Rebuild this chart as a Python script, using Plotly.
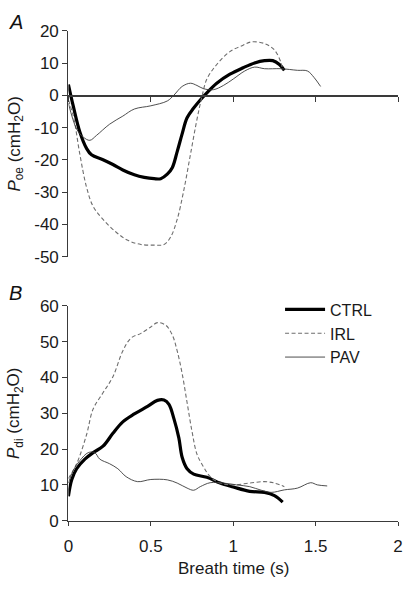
import plotly.graph_objects as go

# ---------- Data ----------
# Panel A: oesophageal pressure (cmH2O) vs breath time (s)
ctrl_oe_t = [0, 0.03, 0.07, 0.11, 0.14, 0.21, 0.27, 0.33, 0.40, 0.46, 0.52, 0.56, 0.60, 0.63,
             0.66, 0.69, 0.72, 0.76, 0.80, 0.84, 0.90, 0.98, 1.06, 1.13, 1.19, 1.24, 1.28, 1.31]
ctrl_oe_v = [3.4, -3.4, -11.4, -16.4, -18.4, -19.9, -21.4, -23.1, -24.6, -25.4, -25.8, -25.8, -24.4, -22.4,
             -17.4, -11.9, -6.9, -3.9, -1.4, 0.8, 3.8, 6.6, 8.6, 10.1, 10.8, 10.8, 9.6, 7.8]

irl_oe_t = [0, 0.03, 0.07, 0.11, 0.15, 0.21, 0.29, 0.36, 0.44, 0.52, 0.58, 0.62, 0.66, 0.70,
            0.74, 0.78, 0.81, 0.84, 0.90, 0.98, 1.06, 1.11, 1.19, 1.25, 1.29, 1.30]
irl_oe_v = [-1.4, -6.4, -18.4, -28.4, -34.4, -38.4, -42.4, -44.9, -46.2, -46.4, -46.2, -43.9, -38.4, -29.4,
            -18.4, -7.4, -0.4, 5.1, 9.6, 13.6, 15.6, 16.6, 16.1, 14.1, 10.1, 7.8]

pav_oe_t = [0, 0.05, 0.09, 0.13, 0.17, 0.25, 0.33, 0.40, 0.50, 0.60, 0.64, 0.69, 0.74, 0.78,
            0.82, 0.88, 0.94, 1.00, 1.07, 1.13, 1.19, 1.29, 1.39, 1.45, 1.49, 1.53]
pav_oe_v = [-2.4, -10.4, -12.9, -13.9, -12.4, -8.9, -6.4, -4.2, -3.2, -1.7, 0.1, 2.8, 3.8, 3.1,
            2.1, 1.8, 3.1, 5.1, 7.6, 8.8, 8.3, 8.3, 7.8, 7.6, 5.6, 2.8]

# Panel B: transdiaphragmatic pressure (cmH2O) vs breath time (s)
ctrl_di_t = [0, 0.02, 0.05, 0.10, 0.15, 0.21, 0.27, 0.33, 0.40, 0.48, 0.54, 0.58, 0.61, 0.64,
             0.67, 0.69, 0.72, 0.76, 0.84, 0.92, 1.00, 1.10, 1.19, 1.25, 1.30]
ctrl_di_v = [6.8, 11.4, 14.5, 17.2, 19.0, 20.8, 24.4, 27.6, 29.8, 31.9, 33.6, 33.7, 32.5, 28.5,
             23.1, 17.7, 14.5, 13.0, 12.1, 10.5, 9.4, 8.2, 7.9, 7.0, 5.2]

irl_di_t = [0, 0.05, 0.11, 0.15, 0.21, 0.27, 0.33, 0.38, 0.44, 0.50, 0.54, 0.59, 0.63, 0.66,
            0.69, 0.72, 0.75, 0.78, 0.82, 0.86, 0.92, 1.00, 1.10, 1.19, 1.25, 1.31]
irl_di_v = [11.8, 15.9, 24.0, 31.2, 35.7, 40.2, 47.4, 51.0, 52.3, 54.1, 55.3, 54.6, 51.9, 47.4,
            41.1, 33.0, 24.9, 18.6, 15.0, 12.3, 10.5, 10.0, 10.5, 10.9, 10.5, 9.5]

pav_di_t = [0, 0.03, 0.07, 0.12, 0.16, 0.19, 0.25, 0.30, 0.35, 0.42, 0.50, 0.60, 0.66, 0.72,
            0.76, 0.80, 0.86, 0.94, 1.02, 1.10, 1.17, 1.23, 1.31, 1.39, 1.47, 1.51, 1.57]
pav_di_v = [10.5, 14.1, 16.8, 19.0, 19.0, 17.2, 15.9, 14.5, 12.3, 10.9, 11.5, 11.4, 10.5, 9.1,
            8.5, 9.5, 10.6, 10.5, 10.0, 9.5, 8.5, 7.9, 8.6, 9.1, 10.6, 10.0, 9.7]

series_names = ["CTRL", "IRL", "PAV"]

top_ticks = [20, 10, 0, -10, -20, -30, -40, -50]
top_ticktext = ["20", "10", "0", "-10", "-20", "-30", "-40", "-50"]
bot_ticks = [0, 10, 20, 30, 40, 50, 60]
x_ticks = [0, 0.5, 1, 1.5, 2]
x_ticktext = ["0", "0.5", "1", "1.5", "2"]

# ---------- Styling ----------
W, H = 406, 590
FONT = "Liberation Sans, Arial, Helvetica, sans-serif"
AX = "#3a3a3a"
FS = 17

styles = {
    "CTRL": dict(color="#000000", width=3.2, dash="solid"),
    "IRL": dict(color="#6e6e6e", width=1.1, dash="4px,2.5px"),
    "PAV": dict(color="#3a3a3a", width=0.9, dash="solid"),
}

def py(px):
    return 1 - px / H

xdom = [65 / W, 403 / W]
ydom_top = [py(256), py(22.7)]
ydom_bot = [py(528.7), py(306.7)]
zero_pos = ydom_top[0] + (0 - (-50)) / 70 * (ydom_top[1] - ydom_top[0])

fig = go.Figure()

top = [(series_names[0], ctrl_oe_t, ctrl_oe_v), (series_names[1], irl_oe_t, irl_oe_v),
       (series_names[2], pav_oe_t, pav_oe_v)]
bot = [(series_names[0], ctrl_di_t, ctrl_di_v), (series_names[1], irl_di_t, irl_di_v),
       (series_names[2], pav_di_t, pav_di_v)]

for name, t, v in top:
    fig.add_trace(go.Scatter(x=t, y=v, mode="lines", name=name, line=styles[name],
                             xaxis="x", yaxis="y", showlegend=False, line_shape="spline",
                             hoverinfo="skip"))
for name, t, v in bot:
    fig.add_trace(go.Scatter(x=t, y=v, mode="lines", name=name, line=styles[name],
                             xaxis="x2", yaxis="y2", showlegend=True, line_shape="spline",
                             hoverinfo="skip"))

tickfont = dict(family=FONT, size=FS, color="#1a1a1a")

fig.update_layout(
    width=W, height=H,
    margin=dict(l=0, r=0, t=0, b=0),
    paper_bgcolor="white", plot_bgcolor="white",
    font=dict(family=FONT, size=FS, color="#1a1a1a"),
    xaxis=dict(domain=xdom, range=[0, 2], anchor="free", position=zero_pos,
               showline=True, linecolor=AX, linewidth=1.2, ticks="outside", ticklen=5,
               tickcolor=AX, tickvals=x_ticks, showticklabels=False, showgrid=False,
               zeroline=False),
    yaxis=dict(domain=ydom_top, range=[-50, 20], anchor="x", position=xdom[0],
               showline=True, linecolor=AX, linewidth=1.2, ticks="outside", ticklen=5,
               tickcolor=AX, tickvals=top_ticks, ticktext=top_ticktext, tickfont=tickfont,
               showgrid=False, zeroline=False),
    xaxis2=dict(domain=xdom, range=[0, 2], anchor="y2",
                showline=True, linecolor=AX, linewidth=1.2, ticks="outside", ticklen=4,
                tickcolor=AX, tickvals=x_ticks, ticktext=x_ticktext, tickfont=tickfont,
                showgrid=False, zeroline=False, ticklabeloverflow="allow",
                ticklabelstandoff=6),
    yaxis2=dict(domain=ydom_bot, range=[0, 60], anchor="x2",
                showline=True, linecolor=AX, linewidth=1.2, ticks="outside", ticklen=5,
                tickcolor=AX, tickvals=bot_ticks, tickfont=tickfont,
                showgrid=False, zeroline=False),
    legend=dict(x=282 / W, y=py(293), xanchor="left", yanchor="top",
                bgcolor="rgba(0,0,0,0)", font=dict(family=FONT, size=16, color="#1a1a1a"),
                tracegroupgap=0, itemwidth=40),
    annotations=[
        dict(text="<i>A</i>", x=2 / W, y=py(0), xref="paper", yref="paper",
             xanchor="left", yanchor="top", showarrow=False,
             font=dict(family=FONT, size=20, color="#111")),
        dict(text="<i>B</i>", x=2 / W, y=py(280), xref="paper", yref="paper",
             xanchor="left", yanchor="top", showarrow=False,
             font=dict(family=FONT, size=20, color="#111")),
        dict(text="<i>P</i><sub>oe</sub> (cmH<sub>2</sub>O)", x=11 / W,
             y=(ydom_top[0] + ydom_top[1]) / 2, xref="paper", yref="paper",
             textangle=-90, showarrow=False, xanchor="center", yanchor="middle",
             font=dict(family=FONT, size=FS, color="#1a1a1a")),
        dict(text="<i>P</i><sub>di</sub> (cmH<sub>2</sub>O)", x=11 / W,
             y=(ydom_bot[0] + ydom_bot[1]) / 2, xref="paper", yref="paper",
             textangle=-90, showarrow=False, xanchor="center", yanchor="middle",
             font=dict(family=FONT, size=FS, color="#1a1a1a")),
        dict(text="Breath time (s)", x=(xdom[0] + xdom[1]) / 2, y=py(578),
             xref="paper", yref="paper", showarrow=False, xanchor="center",
             yanchor="middle", font=dict(family=FONT, size=FS, color="#1a1a1a")),
    ],
)

fig.write_html(
    "out.html",
    config={"displayModeBar": False, "staticPlot": True},
    post_script=("document.documentElement.style.margin='0';"
                 "document.documentElement.style.overflow='hidden';"
                 "document.body.style.margin='0';document.body.style.padding='0';"
                 "document.body.style.overflow='hidden';"),
)
